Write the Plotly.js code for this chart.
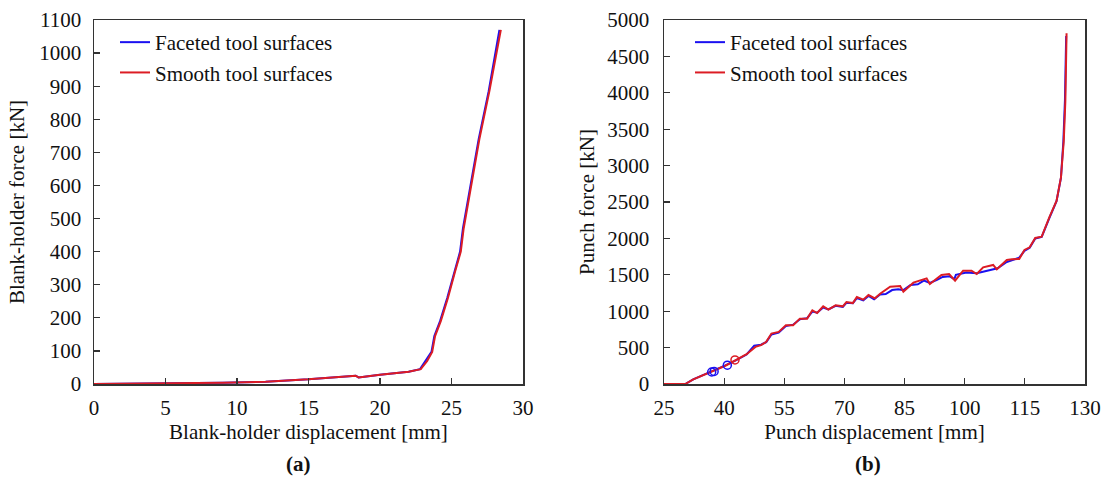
<!DOCTYPE html>
<html>
<head>
<meta charset="utf-8">
<script src="https://cdn.plot.ly/plotly-3.0.1.min.js"></script>
<style>html,body{margin:0;padding:0;background:#fff;}#chart{width:1109px;height:478px;}</style>
</head>
<body>
<div id="chart"></div>
<script>
// ---- Data: (a) blank-holder force vs blank-holder displacement ----
const bhX_faceted = [0, 3, 6, 9, 12, 15, 18.3, 18.5, 20, 22, 22.8, 23.2, 23.6, 23.8, 24.2, 24.7, 25.2, 25.6, 25.8, 26.3, 26.9, 27.6, 28.35];
const bhY_faceted = [0, 1, 2, 4, 7, 14, 25, 20, 28, 37, 45, 70, 97, 145, 190, 260, 340, 400, 470, 590, 740, 885, 1070];
const bhX_smooth  = [0, 3, 6, 9, 12, 15, 18.3, 18.5, 20, 22, 22.85, 23.3, 23.65, 23.85, 24.25, 24.75, 25.25, 25.65, 25.85, 26.35, 26.95, 27.65, 28.45];
const bhY_smooth  = [0, 1, 2, 4, 7, 14, 25, 20, 28, 37, 45, 70, 97, 145, 190, 260, 340, 400, 470, 590, 740, 885, 1070];

// ---- Data: (b) punch force vs punch displacement ----
const pX_faceted = [25, 30.3, 32.3, 36.7, 40.3, 42.9, 45.6, 47.5, 49.2, 50.5, 51.8, 53.6, 55.4, 57.2, 58.9, 60.7, 62.0, 63.2, 64.7, 66.0, 67.8, 69.6, 70.5, 72.1, 73.1, 74.7, 76.0, 77.4, 78.9, 80.3, 81.9, 83.4, 84.7, 86.5, 88.3, 89.8, 91.3, 93.1, 94.5, 96.2, 97.4, 97.8, 100.4, 103.0, 104.7, 106.9, 108.2, 110.3, 111.8, 113.6, 114.9, 116.2, 117.6, 119.2, 121.1, 122.9, 124.0, 124.6, 125.0, 125.3];
const pY_faceted = [0, 0, 64, 165, 255, 325, 405, 525, 540, 575, 680, 705, 795, 815, 890, 905, 995, 980, 1050, 1025, 1075, 1060, 1115, 1110, 1180, 1150, 1210, 1165, 1230, 1235, 1290, 1300, 1290, 1360, 1370, 1420, 1390, 1430, 1470, 1480, 1440, 1500, 1530, 1520, 1545, 1580, 1590, 1670, 1700, 1735, 1830, 1870, 2000, 2020, 2280, 2510, 2830, 3330, 3900, 4780];
const pX_smooth = [25, 30.3, 32.3, 36.7, 40.3, 42.9, 45.6, 47.8, 49.2, 50.5, 51.8, 53.6, 55.4, 57.2, 58.9, 60.7, 62.0, 63.2, 64.7, 66.0, 67.8, 69.6, 70.5, 72.1, 73.1, 74.7, 76.0, 77.6, 78.9, 81.4, 83.9, 84.7, 87.2, 90.5, 91.3, 94.2, 96.1, 97.6, 99.6, 101.7, 103.0, 104.6, 107.1, 108.0, 110.5, 111.8, 113.6, 114.9, 116.2, 117.6, 119.2, 121.1, 122.9, 124.0, 124.7, 125.1, 125.4];
const pY_smooth = [0, 0, 64, 169, 251, 328, 410, 510, 533, 579, 693, 716, 807, 807, 898, 898, 1012, 975, 1067, 1021, 1080, 1067, 1126, 1112, 1194, 1158, 1222, 1177, 1240, 1337, 1346, 1268, 1392, 1451, 1374, 1497, 1511, 1419, 1556, 1556, 1511, 1603, 1635, 1575, 1703, 1714, 1718, 1841, 1878, 2006, 2024, 2288, 2516, 2835, 3337, 3883, 4818];

// small loop artefacts on the curves
const loopX_faceted = [36.9, 37.5, 40.8];
const loopY_faceted = [165, 172, 258];
const loopX_smooth = [42.7];
const loopY_smooth = [330];

const seriesNames = ['Faceted tool surfaces', 'Smooth tool surfaces'];
const blue = '#1a10f0';
const red = '#dc1c24';
const FONT = 'Liberation Serif, Times New Roman, serif';

const traces = [
  {x: bhX_faceted, y: bhY_faceted, xaxis: 'x', yaxis: 'y', mode: 'lines', name: seriesNames[0], line: {color: blue, width: 2}, legend: 'legend'},
  {x: bhX_smooth, y: bhY_smooth, xaxis: 'x', yaxis: 'y', mode: 'lines', name: seriesNames[1], line: {color: red, width: 2}, legend: 'legend'},
  {x: pX_faceted, y: pY_faceted, xaxis: 'x2', yaxis: 'y2', mode: 'lines', name: seriesNames[0], line: {color: blue, width: 2}, legend: 'legend2'},
  {x: pX_smooth, y: pY_smooth, xaxis: 'x2', yaxis: 'y2', mode: 'lines', name: seriesNames[1], line: {color: red, width: 2}, legend: 'legend2'},
  {x: loopX_faceted, y: loopY_faceted, xaxis: 'x2', yaxis: 'y2', mode: 'markers', showlegend: false, hoverinfo: 'skip', marker: {symbol: 'circle-open', size: 8, color: blue, line: {width: 1.5, color: blue}}},
  {x: loopX_smooth, y: loopY_smooth, xaxis: 'x2', yaxis: 'y2', mode: 'markers', showlegend: false, hoverinfo: 'skip', marker: {symbol: 'circle-open', size: 8, color: red, line: {width: 1.5, color: red}}}
];

const W = 1109, H = 478;
const axisCommon = {
  showline: true, mirror: true, linecolor: '#333', linewidth: 1.5,
  ticks: 'inside', ticklen: 6, tickwidth: 1.2, tickcolor: '#333',
  showgrid: false, zeroline: false, automargin: false,
  tickfont: {family: FONT, size: 21, color: '#111'}
};
const titleFont = {family: FONT, size: 21, color: '#111'};

const layout = {
  width: W, height: H,
  margin: {l: 0, r: 0, t: 0, b: 0},
  paper_bgcolor: '#fff', plot_bgcolor: '#fff',
  font: {family: FONT, size: 21, color: '#111'},
  xaxis: Object.assign({}, axisCommon, {domain: [94/W, 523/W], range: [0, 30], tickvals: [0,5,10,15,20,25,30], anchor: 'y', ticklabelstandoff: 4,
    title: {text: 'Blank-holder displacement [mm]', font: titleFont, standoff: 4}}),
  yaxis: Object.assign({}, axisCommon, {domain: [(H-384)/H, (H-20)/H], range: [0, 1100], tickvals: [0,100,200,300,400,500,600,700,800,900,1000,1100], anchor: 'x', ticklabelstandoff: 7,
    title: {text: 'Blank-holder force [kN]', font: titleFont, standoff: 9}}),
  xaxis2: Object.assign({}, axisCommon, {domain: [664/W, 1085/W], range: [25, 130], tickvals: [25,40,55,70,85,100,115,130], anchor: 'y2', ticklabelstandoff: 4,
    title: {text: 'Punch displacement [mm]', font: titleFont, standoff: 4}}),
  yaxis2: Object.assign({}, axisCommon, {domain: [(H-384)/H, (H-20)/H], range: [0, 5000], tickvals: [0,500,1000,1500,2000,2500,3000,3500,4000,4500,5000], anchor: 'x2', ticklabelstandoff: 9,
    title: {text: 'Punch force [kN]', font: titleFont, standoff: 7}}),
  legend: {x: 115/W, y: (H-22)/H, xanchor: 'left', yanchor: 'top', bgcolor: 'rgba(0,0,0,0)', font: {family: FONT, size: 21, color: '#111'}},
  legend2: {x: 690/W, y: (H-22)/H, xanchor: 'left', yanchor: 'top', bgcolor: 'rgba(0,0,0,0)', font: {family: FONT, size: 21, color: '#111'}},
  annotations: [
    {text: '<b>(a)</b>', xref: 'paper', yref: 'paper', x: 298/W, y: (H-464)/H, xanchor: 'center', yanchor: 'middle', showarrow: false, font: {family: FONT, size: 21, color: '#111'}},
    {text: '<b>(b)</b>', xref: 'paper', yref: 'paper', x: 868/W, y: (H-464)/H, xanchor: 'center', yanchor: 'middle', showarrow: false, font: {family: FONT, size: 21, color: '#111'}}
  ],
  showlegend: true
};

Plotly.newPlot('chart', traces, layout, {displayModeBar: false, staticPlot: true});
</script>
</body>
</html>
